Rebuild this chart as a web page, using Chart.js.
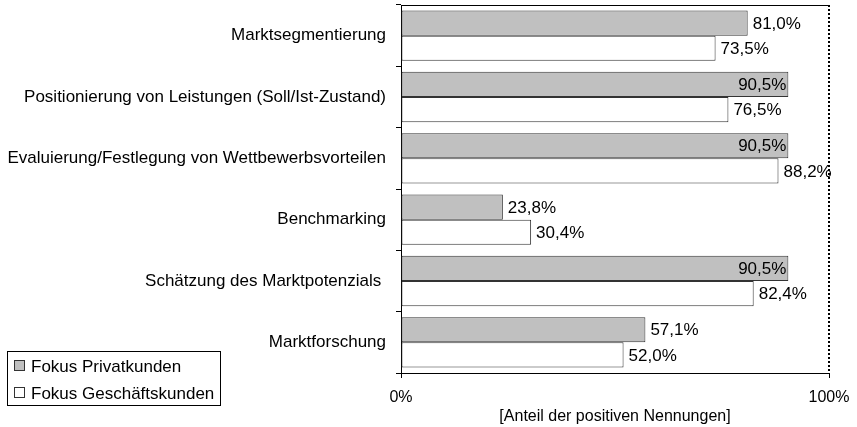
<!DOCTYPE html>
<html>
<head>
<meta charset="utf-8">
<script src="https://cdn.jsdelivr.net/npm/chart.js@4/dist/chart.umd.min.js"></script>
<style>
html,body{margin:0;padding:0;background:#fff;}
#wrap{position:relative;width:857px;height:427px;}
</style>
</head>
<body>
<div id="wrap"><canvas id="c" width="857" height="427"></canvas></div>
<script>
const categories = [
  "Marktsegmentierung",
  "Positionierung von Leistungen (Soll/Ist-Zustand)",
  "Evaluierung/Festlegung von Wettbewerbsvorteilen",
  "Benchmarking",
  "Schätzung des Marktpotenzials ",
  "Marktforschung"
];
const seriesNames = ["Fokus Privatkunden", "Fokus Geschäftskunden"];
const privatkunden = [81.0, 90.5, 90.5, 23.8, 90.5, 57.1];
const geschaeftskunden = [73.5, 76.5, 88.2, 30.4, 82.4, 52.0];
const xTickValues = [0, 100];
const axisTitle = "[Anteil der positiven Nennungen]";

const FONT = "'Liberation Sans', Arial, sans-serif";
Chart.defaults.font.family = FONT;
Chart.defaults.color = "#000";

const valueLabels = {
  id: "valueLabels",
  afterDatasetsDraw(chart) {
    const ctx = chart.ctx;
    ctx.save();
    ctx.font = "17px " + FONT;
    ctx.fillStyle = "#000";
    ctx.textBaseline = "middle";
    chart.data.datasets.forEach((ds, di) => {
      const meta = chart.getDatasetMeta(di);
      meta.data.forEach((el, i) => {
        const v = ds.data[i];
        const txt = v.toFixed(1).replace(".", ",") + "%";
        if (v >= 90) {
          ctx.textAlign = "right";
          ctx.fillText(txt, el.x - 2, el.y + 1);
        } else {
          ctx.textAlign = "left";
          ctx.fillText(txt, el.x + 5, el.y + 1);
        }
      });
    });
    ctx.restore();
  }
};

const frame = {
  id: "frame",
  afterDraw(chart) {
    const ctx = chart.ctx;
    const a = chart.chartArea;
    ctx.save();
    ctx.strokeStyle = "#000";
    ctx.lineWidth = 1;
    ctx.beginPath();
    ctx.moveTo(a.left, Math.round(a.top) + 0.5);
    ctx.lineTo(a.right, Math.round(a.top) + 0.5);
    ctx.stroke();
    ctx.setLineDash([2, 2]);
    ctx.lineWidth = 2;
    ctx.beginPath();
    ctx.moveTo(Math.round(a.right), a.top);
    ctx.lineTo(Math.round(a.right), a.bottom);
    ctx.stroke();
    ctx.restore();
  }
};

const legendBox = {
  id: "legendBox",
  afterDraw(chart) {
    const ctx = chart.ctx;
    ctx.save();
    ctx.strokeStyle = "#000";
    ctx.lineWidth = 1;
    ctx.fillStyle = "#fff";
    ctx.fillRect(7, 351, 213, 54);
    ctx.strokeRect(7.5, 351.5, 213, 54);
    ctx.font = "17px " + FONT;
    ctx.textBaseline = "middle";
    ctx.textAlign = "left";
    const colors = ["#c0c0c0", "#ffffff"];
    seriesNames.forEach((name, i) => {
      const y = 366 + i * 27;
      ctx.fillStyle = colors[i];
      ctx.fillRect(14.5, y - 5.5, 10, 10);
      ctx.strokeStyle = "#333";
      ctx.strokeRect(14.5, y - 5.5, 10, 10);
      ctx.fillStyle = "#000";
      ctx.fillText(name, 31, y + 1);
    });
    ctx.restore();
  }
};

new Chart(document.getElementById("c"), {
  type: "bar",
  data: {
    labels: categories,
    datasets: [
      { label: seriesNames[0], data: privatkunden, backgroundColor: "#c0c0c0", borderColor: "#333", borderWidth: 1, borderSkipped: false },
      { label: seriesNames[1], data: geschaeftskunden, backgroundColor: "#ffffff", borderColor: "#333", borderWidth: 1, borderSkipped: false }
    ]
  },
  options: {
    indexAxis: "y",
    responsive: false,
    animation: false,
    devicePixelRatio: 1,
    layout: { padding: { top: 5, right: 28, left: 0, bottom: 0 } },
    datasets: { bar: { categoryPercentage: 0.82, barPercentage: 1.0 } },
    plugins: { legend: { display: false }, tooltip: { enabled: false } },
    scales: {
      x: {
        min: 0, max: 100,
        afterFit(s) { s.height = 54; s.paddingLeft = 0; s.paddingRight = 0; },
        afterBuildTicks(s) { s.ticks = xTickValues.map(v => ({ value: v })); },
        ticks: { font: { size: 16 }, color: "#000", padding: 10, maxRotation: 0, autoSkip: false,
          callback: v => v + "%" },
        grid: { drawOnChartArea: false, tickLength: 5, color: "#000" },
        border: { display: true, color: "#000" },
        title: { display: true, text: axisTitle, font: { size: 16 }, color: "#000", padding: { top: 0, bottom: 1 } }
      },
      y: {
        afterFit(s) { s.width = 401; s.paddingTop = 0; s.paddingBottom = 0; },
        ticks: { font: { size: 17 }, color: "#000", padding: 10, autoSkip: false },
        grid: { drawOnChartArea: false, tickLength: 5, color: "#000", offset: true },
        border: { display: true, color: "#000" }
      }
    }
  },
  plugins: [valueLabels, frame, legendBox]
});
</script>
</body>
</html>
